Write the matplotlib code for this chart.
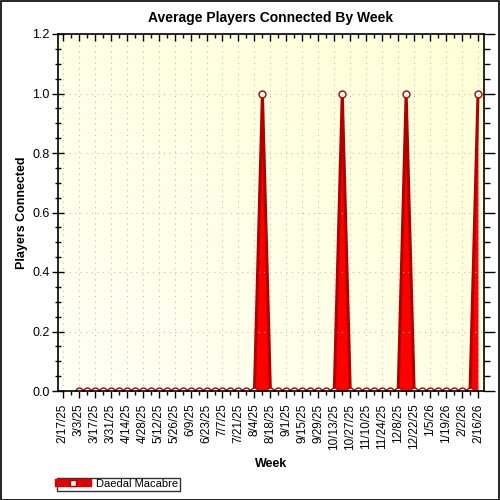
import numpy as np
import pandas as pd
import matplotlib
matplotlib.use("Agg")
import matplotlib.pyplot as plt
from matplotlib.lines import Line2D
from matplotlib.patches import Rectangle
from matplotlib.ticker import MultipleLocator, FixedLocator

plt.rcParams['font.family'] = ['Liberation Sans', 'DejaVu Sans']

# =========================
# data
# =========================
weeks = pd.date_range("2025-02-17", "2026-02-16", freq="7D")
week_labels = [f"{d.month}/{d.day}/{d.year % 100}" for d in weeks]

first_week = 2  # data starts at 3/3/25
players = [
    0, 0, 0, 0, 0, 0, 0, 0, 0, 0,
    0, 0, 0, 0, 0, 0, 0, 0, 0, 0,
    0, 0, 0, 1, 0, 0, 0, 0, 0, 0,
    0, 0, 0, 1, 0, 0, 0, 0, 0, 0,
    0, 1, 0, 0, 0, 0, 0, 0, 0, 0,
    1,
]
series_name = "Daedal Macabre"

# =========================
# plot
# =========================
fig = plt.figure(figsize=(5, 5), dpi=100)
fig.patch.set_facecolor("white")
fig.add_artist(Rectangle((0.001, 0.001), 0.997, 0.997, transform=fig.transFigure,
                         fill=False, edgecolor="black", linewidth=1.2))

ax = fig.add_axes([0.116, 0.218, 0.852, 0.714])

x_all = np.arange(len(weeks))
x = x_all[first_week:first_week + len(players)]
y = np.array(players, dtype=float)

# gradient background
gx, gy = np.meshgrid(np.linspace(0, 1, 200), np.linspace(0, 1, 200))
t = np.clip((gx + (1 - gy)) / 2, 0, 1)
c0 = np.array([1.0, 1.0, 0.96])
c1 = np.array([1.0, 1.0, 0.84])
img = c0[None, None, :] * (1 - t[..., None]) + c1[None, None, :] * t[..., None]
ax.imshow(img, extent=[0, 1, 0, 1], transform=ax.transAxes, aspect="auto",
          zorder=0, origin="upper")

ax.fill_between(x, 0, y, color="#FF0000", linewidth=0, zorder=2)
ax.plot(x, y, color="#B00000", linewidth=2.2, zorder=3,
        marker="o", markersize=5, markerfacecolor="white",
        markeredgecolor="#B00000", markeredgewidth=1.0)

ax.set_xlim(-0.6, len(weeks) - 1 + 0.75)
ax.set_ylim(0, 1.2)

ax.xaxis.set_major_locator(FixedLocator(x_all[::2]))
ax.xaxis.set_minor_locator(FixedLocator(x_all[1::2]))
ax.set_xticklabels(week_labels[::2], rotation=90, fontsize=8.5)
ax.yaxis.set_major_locator(MultipleLocator(0.2))
ax.yaxis.set_minor_locator(MultipleLocator(0.05))
ax.set_yticklabels([f"{v:.1f}" for v in ax.get_yticks()], fontsize=9)

ax.tick_params(axis="x", which="major", direction="out", length=5, width=1,
               top=True, pad=4)
ax.tick_params(axis="x", which="minor", direction="out", length=3, width=1,
               top=True)
ax.tick_params(axis="y", which="major", direction="inout", length=8, width=1,
               right=True, pad=2)
ax.tick_params(axis="y", which="minor", direction="inout", length=4, width=1,
               right=True)
for t_ in ax.xaxis.get_major_ticks() + ax.xaxis.get_minor_ticks():
    t_.tick2line.set_marker(3)  # tick down from top
for t_ in ax.yaxis.get_major_ticks() + ax.yaxis.get_minor_ticks():
    t_.tick2line.set_marker(1)

ax.grid(True, which="major", linestyle=(0, (1, 4)), color="#c0c0c0", linewidth=0.8)
ax.set_axisbelow(False)
for s in ax.spines.values():
    s.set_linewidth(1.2)
    s.set_zorder(5)

ax.set_title("Average Players Connected By Week", fontsize=10, fontweight="bold", pad=9)
ax.set_xlabel("Week", fontsize=9, fontweight="bold", labelpad=6)
ax.set_ylabel("Players Connected", fontsize=9, fontweight="bold", labelpad=3)

handle = Line2D([0], [0], color="#E00000", linewidth=6, marker="s", markersize=5,
                markerfacecolor="white", markeredgecolor="#B00000")
fig.legend(handles=[handle], labels=[series_name], loc="lower left",
           bbox_to_anchor=(0.114, 0.018), frameon=True, fancybox=False,
           edgecolor="black", fontsize=8, handlelength=2.6, borderpad=0.15,
           handletextpad=0.8, borderaxespad=0)

fig.savefig("out.png", dpi=100)
plt.close(fig)
